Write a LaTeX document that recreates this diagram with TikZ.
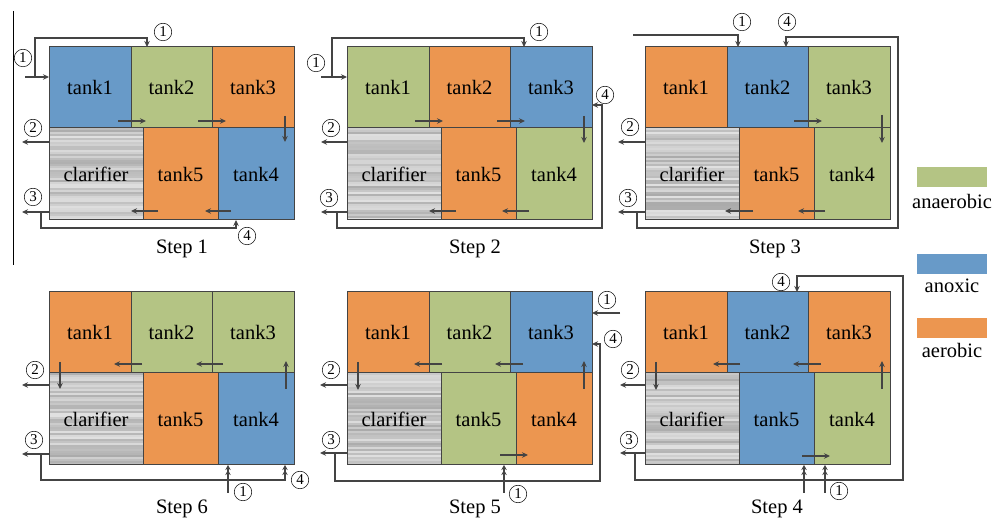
\documentclass[tikz,border=0pt]{standalone}
\usepackage{fontspec}
\setmainfont{Liberation Serif}
\newfontfamily\tmsfont{Liberation Serif}
\usetikzlibrary{arrows.meta}

\definecolor{anaer}{RGB}{180,196,132}
\definecolor{anox}{RGB}{104,154,200}
\definecolor{aer}{RGB}{236,150,80}
\definecolor{linec}{RGB}{68,68,68}

\tikzset{
  tank/.style={draw=linec, line width=1pt, anchor=north west, inner sep=0pt,
    outer sep=0pt, font=\tmsfont\fontsize{20.5}{20.5}\selectfont},
  flow/.style={draw=linec, line width=1.3pt, -{Stealth[length=6pt,width=5.5pt]}},
  dflow/.style={draw=linec, line width=1.3pt,
    -{Stealth[length=5pt,width=5.5pt]Stealth[length=5pt,width=5.5pt]}},
  cnum/.style={circle, draw=black, line width=0.5pt, inner sep=0pt,
    minimum size=17.5pt, font=\tmsfont\fontsize{15}{15}\selectfont},
  steplbl/.style={font=\tmsfont\fontsize{20.5}{20.5}\selectfont, inner sep=0pt},
  legbox/.style={draw=none, anchor=north west, minimum width=70, minimum height=20,
    inner sep=0pt, outer sep=0pt},
  legtxt/.style={font=\tmsfont\fontsize{20.5}{20.5}\selectfont, inner sep=0pt}
}

% One plant layout: three tanks on top, clarifier + tank5 + tank4 below.
% #1 name prefix, #2..#6 fill colours of tank1, tank2, tank3, tank4, tank5
\newcommand\tankpanel[6]{%
  \node[tank,fill=#2,minimum width=82,minimum height=81] (#1t1) at (0,0) {tank1};
  \node[tank,fill=#3,minimum width=81,minimum height=81] (#1t2) at (82,0) {tank2};
  \node[tank,fill=#4,minimum width=82,minimum height=81] (#1t3) at (163,0) {tank3};
  % striped grey fill of the clarifier
  \fill[black!22] (0,81) rectangle (94,173);
  \foreach \k in {0,2,...,90}{%
    \pgfmathtruncatemacro\g{12+22*rnd}%
    \fill[black!\g] (0,81.5+\k) rectangle (94,82.7+\k);
  }
  \node[tank,minimum width=94,minimum height=92] (#1cl) at (0,81) {clarifier};
  \node[tank,fill=#6,minimum width=75,minimum height=92] (#1t5) at (94,81) {tank5};
  \node[tank,fill=#5,minimum width=76,minimum height=92] (#1t4) at (169,81) {tank4};
}

\begin{document}
\begin{tikzpicture}[x=1pt,y=-1pt]
\pgfmathsetseed{11}
\useasboundingbox (0,0) rectangle (997,518);

% separator on the far left
\coordinate (sepA) at (13,11);
\coordinate (sepB) at (13,265);
\draw[black, line width=0.8pt] (sepA) -- (sepB);

% ---------------- Step 1 ----------------
\begin{scope}[shift={(49,47)}]
  \tankpanel{a}{anox}{anaer}{aer}{anox}{aer}
  \draw[flow] (-24,30) -- (0,30);
  \draw[flow] (-14,30) -- (-14,-9) -- (98,-9) -- (98,0);
  \draw[flow] (0,95) -- (-27,95);
  \draw[flow] (0,165) -- (-27,165);
  \draw[flow] (-8,165) -- (-8,181) -- (187,181) -- (187,173);
  \draw[flow] (69,74) -- (97,74);
  \draw[flow] (149,74) -- (177,74);
  \draw[flow] (236,69) -- (236,95);
  \draw[flow] (182,164) -- (156,164);
  \draw[flow] (109,164) -- (82,164);
  \node[cnum] (a1) at (-26,11) {1};
  \node[cnum] (a1b) at (114,-15) {1};
  \node[cnum] (a2) at (-16,81) {2};
  \node[cnum] (a3) at (-16,150) {3};
  \node[cnum] (a4) at (198,189) {4};
  \node[steplbl] (astep) at (133,202) {Step 1};
\end{scope}

% ---------------- Step 2 ----------------
\begin{scope}[shift={(347,47)}]
  \tankpanel{b}{anaer}{aer}{anox}{anaer}{aer}
  \draw[flow] (-26,30) -- (0,30);
  \draw[flow] (-15,30) -- (-15,-9) -- (177,-9) -- (177,0);
  \draw[flow] (0,95) -- (-26,95);
  \draw[flow] (0,165) -- (-26,165);
  \draw[flow] (-10,165) -- (-10,181) -- (255,181) -- (255,58) -- (245,58);
  \draw[flow] (68,74) -- (96,74);
  \draw[flow] (150,74) -- (178,74);
  \draw[flow] (237,69) -- (237,96);
  \draw[flow] (182,164) -- (155,164);
  \draw[flow] (109,164) -- (82,164);
  \node[cnum] (b1) at (-31,16) {1};
  \node[cnum] (b1b) at (192,-15) {1};
  \node[cnum] (b4) at (258,48) {4};
  \node[cnum] (b2) at (-16,81) {2};
  \node[cnum] (b3) at (-18,151) {3};
  \node[steplbl] (bstep) at (128,202) {Step 2};
\end{scope}

% ---------------- Step 3 ----------------
\begin{scope}[shift={(645,47)}]
  \tankpanel{c}{aer}{anox}{anaer}{anaer}{aer}
  \draw[flow] (-12,-12) -- (93,-12) -- (93,0);
  \draw[flow] (-8,165) -- (-8,181) -- (253,181) -- (253,-10) -- (141,-10) -- (141,0);
  \draw[flow] (0,95) -- (-27,95);
  \draw[flow] (0,165) -- (-27,165);
  \draw[flow] (149,74) -- (177,74);
  \draw[flow] (237,68) -- (237,96);
  \draw[flow] (180,164) -- (153,164);
  \draw[flow] (108,164) -- (80,164);
  \node[cnum] (c1) at (97,-25) {1};
  \node[cnum] (c4) at (142,-25) {4};
  \node[cnum] (c2) at (-15,80) {2};
  \node[cnum] (c3) at (-17,151) {3};
  \node[steplbl] (cstep) at (130,202) {Step 3};
\end{scope}

% ---------------- Step 6 ----------------
\begin{scope}[shift={(49,292)}]
  \tankpanel{f}{aer}{anaer}{anaer}{anox}{aer}
  \draw[flow] (0,93) -- (-27,93);
  \draw[flow] (0,162) -- (-27,162);
  \draw[dflow] (-8,162) -- (-8,188) -- (236,188) -- (236,173);
  \draw[dflow] (179,201) -- (179,173);
  \draw[flow] (174,72) -- (147,72);
  \draw[flow] (93,72) -- (65,72);
  \draw[flow] (11,70) -- (11,97);
  \draw[flow] (237,97) -- (237,69);
  \node[cnum] (f2) at (-14,78) {2};
  \node[cnum] (f3) at (-15,148) {3};
  \node[cnum] (f4) at (251,188) {4};
  \node[cnum] (f1) at (194,200) {1};
  \node[steplbl] (fstep) at (133,217) {Step 6};
\end{scope}

% ---------------- Step 5 ----------------
\begin{scope}[shift={(347,292)}]
  \tankpanel{e}{aer}{anaer}{anox}{aer}{anaer}
  \draw[flow] (273,21) -- (245,21);
  \draw[dflow] (157,201) -- (157,173);
  \draw[flow] (0,93) -- (-27,93);
  \draw[flow] (0,161) -- (-27,161);
  \draw[flow] (-12,161) -- (-12,189) -- (253,189) -- (253,52) -- (245,52);
  \draw[flow] (176,72) -- (148,72);
  \draw[flow] (95,72) -- (67,72);
  \draw[flow] (11,70) -- (11,98);
  \draw[flow] (237,97) -- (237,69);
  \draw[flow] (153,163) -- (181,163);
  \node[cnum] (e1) at (260,8) {1};
  \node[cnum] (e4) at (266,47) {4};
  \node[cnum] (e1b) at (171,202) {1};
  \node[cnum] (e2) at (-16,78) {2};
  \node[cnum] (e3) at (-16,148) {3};
  \node[steplbl] (estep) at (128,217) {Step 5};
\end{scope}

% ---------------- Step 4 ----------------
\begin{scope}[shift={(645,292)}]
  \tankpanel{d}{aer}{anox}{aer}{anaer}{anox}
  \draw[flow] (-10,161) -- (-10,188) -- (258,188) -- (258,-16) -- (152,-16) -- (152,0);
  \draw[dflow] (159,201) -- (159,173);
  \draw[dflow] (180,201) -- (180,173);
  \draw[flow] (0,93) -- (-25,93);
  \draw[flow] (0,161) -- (-25,161);
  \draw[flow] (176,72) -- (148,72);
  \draw[flow] (95,72) -- (68,72);
  \draw[flow] (11,70) -- (11,98);
  \draw[flow] (237,97) -- (237,69);
  \draw[flow] (157,164) -- (185,164);
  \node[cnum] (d4) at (136,-10) {4};
  \node[cnum] (d1) at (194,199) {1};
  \node[cnum] (d2) at (-15,78) {2};
  \node[cnum] (d3) at (-16,148) {3};
  \node[steplbl] (dstep) at (132,217) {Step 4};
\end{scope}

% ---------------- legend ----------------
\node[legbox, fill=anaer] (lg1) at (917,167) {};
\node[legtxt] (lt1) at (952,201) {anaerobic};
\node[legbox, fill=anox] (lg2) at (917,254) {};
\node[legtxt] (lt2) at (952,286) {anoxic};
\node[legbox, fill=aer] (lg3) at (917,318) {};
\node[legtxt] (lt3) at (952,350) {aerobic};
\end{tikzpicture}
\end{document}
